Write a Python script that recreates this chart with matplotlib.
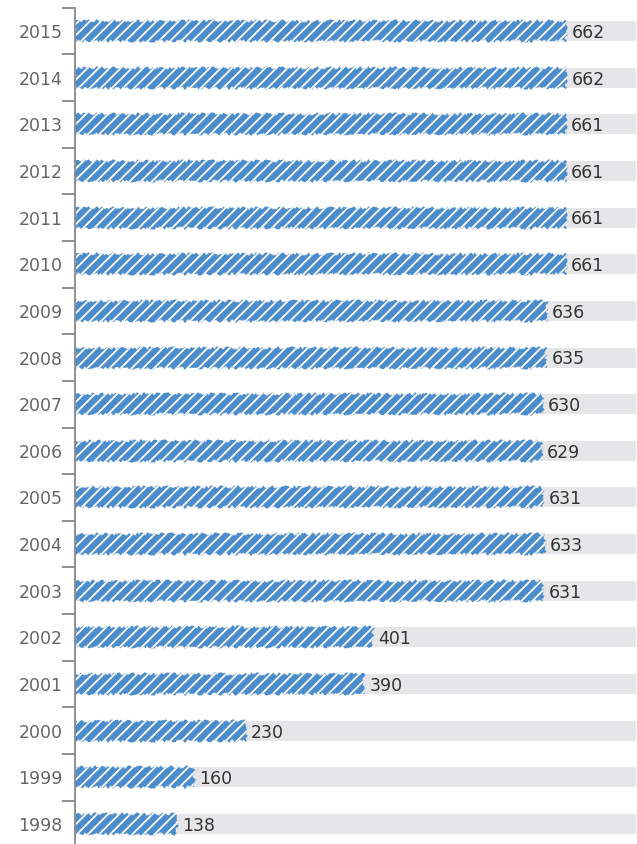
import numpy as np
import matplotlib
matplotlib.use('Agg')
import matplotlib.pyplot as plt

# data
years = [1998, 1999, 2000, 2001, 2002, 2003, 2004, 2005, 2006,
         2007, 2008, 2009, 2010, 2011, 2012, 2013, 2014, 2015]
values = [138, 160, 230, 390, 401, 631, 633, 631, 629,
          630, 635, 636, 661, 661, 661, 661, 662, 662]
x_max = 756

BLUE = '#4a8ccc'
GREY_BG = '#e6e6e8'
AXIS = '#888888'

plt.rcParams['font.family'] = ['DejaVu Sans']
plt.rcParams['hatch.linewidth'] = 1.3

fig = plt.figure(figsize=(6.37, 8.44), dpi=100)
ax = fig.add_axes([75 / 637, -3.3 / 844, 561 / 637, 839.6 / 844])

pos = np.arange(len(years))
bar_h = 20 / 46.6

# grey background track
ax.barh(pos, [x_max] * len(years), height=bar_h, color=GREY_BG, zorder=1)

# hand-drawn-ish blue bars
bars = ax.barh(pos, values, height=bar_h, color=BLUE, edgecolor='white',
               linewidth=0, hatch='///', zorder=2)
for b in bars:
    b.set_sketch_params(scale=1.5, length=6, randomness=8)

for p, v in zip(pos, values):
    ax.text(v + 7, p - 0.04, str(v), va='center', ha='left', fontsize=12.5,
            color='#333333', zorder=3)

ax.set_xlim(0, x_max)
ax.set_ylim(-0.5, len(years) - 0.5)

ax.set_yticks(pos)
ax.set_yticklabels([str(y) for y in years], fontsize=12.5, color='#666666')
ax.tick_params(axis='y', which='major', length=0, pad=9)
ax.set_yticks(np.arange(len(years) + 1) - 0.5, minor=True)
ax.tick_params(axis='y', which='minor', length=9.5, width=1.3, color=AXIS)
ax.set_xticks([])

for s in ['top', 'right', 'bottom']:
    ax.spines[s].set_visible(False)
ax.spines['left'].set_color(AXIS)
ax.spines['left'].set_linewidth(1.3)

fig.savefig('out.png', dpi=100)
